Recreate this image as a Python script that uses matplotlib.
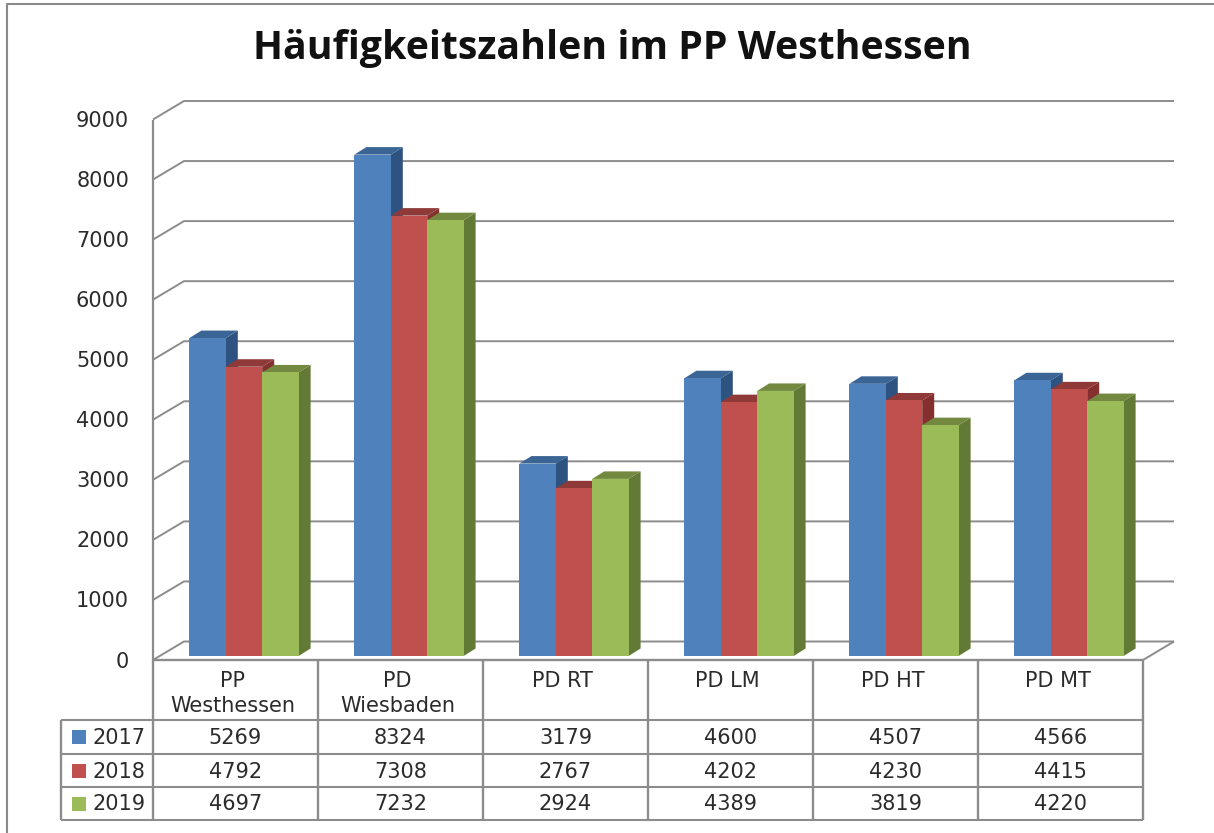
import matplotlib
matplotlib.use("Agg")
import matplotlib.pyplot as plt
from matplotlib.patches import Rectangle, Polygon

categories = ["PP\nWesthessen", "PD\nWiesbaden", "PD RT", "PD LM", "PD HT", "PD MT"]
years = ["2017", "2018", "2019"]
values_2017 = [5269, 8324, 3179, 4600, 4507, 4566]
values_2018 = [4792, 7308, 2767, 4202, 4230, 4415]
values_2019 = [4697, 7232, 2924, 4389, 3819, 4220]
yticks = [0, 1000, 2000, 3000, 4000, 5000, 6000, 7000, 8000, 9000]
title = "Häufigkeitszahlen im PP Westhessen"

series = [values_2017, values_2018, values_2019]
front = ["#4F81BD", "#C0504D", "#9BBB59"]
top = ["#3A6595", "#8F3A38", "#72893F"]
side = ["#2F5380", "#85302E", "#637A36"]
GRID = "#8C8C8C"
TXT = "#2B2B2B"
FONT = "DejaVu Sans"
TITLE_FONT = "Open Sans"

W, H = 1214, 833
L, R, Y0, Y9 = 153, 1143, 660, 119.5
fig = plt.figure(figsize=(W / 100, H / 100), dpi=100, facecolor="white")
ax = fig.add_axes([L / W, 1 - Y0 / H, (R - L) / W, (Y0 - Y9) / H])
ax.set_xlim(0, 6)
ax.set_ylim(0, 9000)
ax.axis("off")

px = 6 / (R - L)                 # data units of x per pixel
py = 9000 / (Y0 - Y9)            # data units of y per pixel
kw = dict(clip_on=False)
lk = dict(clip_on=False, solid_capstyle="butt", solid_joinstyle="miter")

# outer chart frame
fig.add_artist(plt.Line2D([7 / W, 7 / W, 1], [0, 1 - 4 / H, 1 - 4 / H], color="#8A8A8A", lw=1.5))

# walls and gridlines
dx, dy = 31 * px, 18.5 * py
for t in yticks:
    ax.plot([0, dx, 6 + dx], [t, t + dy, t + dy], color=GRID, lw=1.4, zorder=1, **lk)
    ax.text(-24 * px, t - 1.5 * py, str(t), ha="right", va="center", fontsize=15, color=TXT, family=FONT, **kw)
ax.plot([0, 0], [0, 9000], color=GRID, lw=1.6, zorder=1, **lk)
ax.plot([6, 6 + dx], [0, dy], color=GRID, lw=1.4, zorder=1, **lk)

# bars with depth
bw = 36.4 * px
ox, foot, oy = 8.5 * px, 4 * py, 5.5 * py
sx, sy = 12 * px, 7.5 * py
for c in range(len(categories)):
    for s in range(3):
        x0 = c + 0.5 + ox + (s - 1.5) * bw
        v = series[s][c]
        z = 3 + s
        ax.add_patch(Polygon([(x0 + bw, foot), (x0 + bw + sx, foot + sy), (x0 + bw + sx, oy + v + sy), (x0 + bw, oy + v)],
                             fc=side[s], ec="none", zorder=z, **kw))
        ax.add_patch(Polygon([(x0, oy + v), (x0 + sx, oy + v + sy), (x0 + bw + sx, oy + v + sy), (x0 + bw, oy + v)],
                             fc=top[s], ec="none", zorder=z, **kw))
        ax.add_patch(Rectangle((x0, foot), bw, oy + v - foot, fc=front[s], ec="none", zorder=z + 0.5, **kw))

# data table
rows_px = [720, 754, 787, 820]
rows = [(Y0 - r) * py for r in rows_px]
left = (61 - L) * px
for i in range(7):
    ax.plot([i, i], [0, rows[-1]], color=GRID, lw=1.7, zorder=2, **lk)
ax.plot([0, 6], [0, 0], color=GRID, lw=1.7, zorder=2, **lk)
for r in rows:
    ax.plot([left, 6], [r, r], color=GRID, lw=1.5, zorder=2, **lk)
ax.plot([left, left], [rows[0], rows[-1]], color=GRID, lw=1.7, zorder=2, **lk)

for c, name in enumerate(categories):
    ax.text(c + 0.5 - 3 * px, -11 * py, name, ha="center", va="top", fontsize=15, color=TXT, family=FONT,
            linespacing=1.32, **kw)
    for s in range(3):
        ymid = (rows[s] + rows[s + 1]) / 2
        ax.text(c + 0.5, ymid - 1 * py, str(series[s][c]), ha="center", va="center", fontsize=15, color=TXT,
                family=FONT, **kw)
for s in range(3):
    ymid = (rows[s] + rows[s + 1]) / 2
    ax.add_patch(Rectangle(((72 - L) * px, ymid - 7 * py), 14 * px, 14 * py, fc=front[s], ec="none", **kw))
    ax.text((93 - L) * px, ymid - 1 * py, years[s], ha="left", va="center", fontsize=15, color=TXT, family=FONT, **kw)

fig.text(612.5 / W, 1 - 49 / H, title, ha="center", va="center", fontsize=28.3, fontweight="bold",
         color="#111111", family=TITLE_FONT)

fig.savefig("out.png", dpi=100)
